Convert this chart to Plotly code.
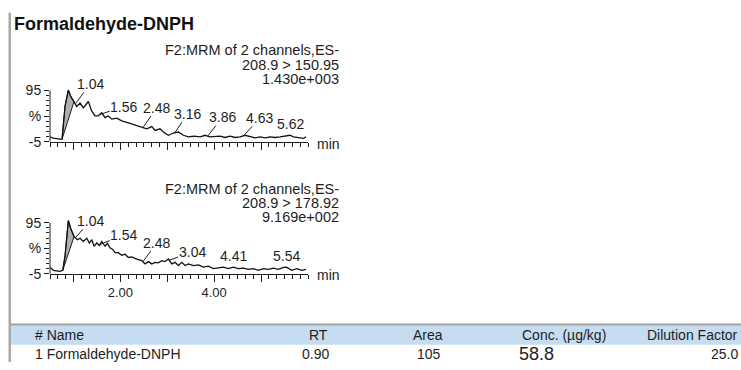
import plotly.graph_objects as go
import numpy as np

# ---------------- data ----------------
title_text = "Formaldehyde-DNPH"

t1 = [0.50, 0.565, 0.714, 0.757, 0.821, 0.891, 0.942, 1.013, 1.07, 1.141, 1.211, 1.318,
      1.39, 1.46, 1.525, 1.603, 1.674, 1.744, 1.817, 1.923, 2.03, 2.136, 2.243, 2.35,
      2.456, 2.563, 2.669, 2.74, 2.846, 2.917, 3.023, 3.13, 3.237, 3.343, 3.45, 3.57,
      3.70, 3.806, 3.91, 4.02, 4.126, 4.232, 4.339, 4.446, 4.552, 4.659, 4.765, 4.872,
      4.979, 5.085, 5.19, 5.30, 5.405, 5.512, 5.618, 5.689, 5.79, 5.902, 5.96]
y1 = [4.3, 1.9, 0, 0, 64.7, 96, 83.6, 73.6, 64, 70.4, 61, 73.6,
      54.7, 45.3, 45.3, 51.5, 42, 45.3, 39, 41, 35.8, 32.6, 29.6, 26.4,
      23.2, 20.2, 24.5, 17, 20.2, 13.8, 7.5, 11.9, 13.8, 7.5, 4.3, 5.7,
      4.3, 7.5, 4.3, 4.3, 5.7, 3.2, 5.7, 3.2, 4.3, 7.5, 4.3, 2.5,
      4.3, 2.5, 4.3, 3.2, 4.3, 5.7, 7.5, 4.3, 3.2, 1.3, 4.3]

t2 = [0.50, 0.571, 0.714, 0.772, 0.821, 0.891, 0.942, 1.013, 1.083, 1.141, 1.211, 1.284,
      1.339, 1.39, 1.439, 1.497, 1.552, 1.603, 1.674, 1.723, 1.78, 1.838, 1.887, 1.957,
      2.03, 2.10, 2.17, 2.243, 2.35, 2.456, 2.527, 2.597, 2.669, 2.74, 2.81, 2.883,
      2.953, 3.023, 3.096, 3.166, 3.237, 3.309, 3.38, 3.45, 3.556, 3.663, 3.77, 3.876,
      3.983, 4.09, 4.196, 4.303, 4.41, 4.516, 4.623, 4.73, 4.836, 4.942, 5.05, 5.156,
      5.262, 5.369, 5.476, 5.54, 5.655, 5.761, 5.868, 5.96]
y2 = [8.1, 1.9, 0, 1.9, 30.2, 99.4, 83.6, 67.9, 61.7, 64.7, 58.5, 64.7,
      55.3, 61.7, 49, 55.3, 50.4, 58.5, 49, 54.7, 45.8, 42.8, 36.4, 36.4,
      31.5, 33.4, 27, 28.3, 24, 20.8, 14.5, 18.9, 14.5, 17.5, 16.4, 20.8,
      18.9, 24, 14.5, 17.5, 11.3, 17.5, 11.3, 14.5, 11.3, 12.6, 8.1, 10,
      5.1, 6.2, 8.1, 5.1, 8.1, 5.1, 6.2, 3.8, 5.1, 1.9, 5.1, 3.8,
      6.2, 3.8, 7.5, 8.1, 1.9, 5.1, 1.9, 3.8]

peak_bounds1 = (0.757, 1.013)
peak_bounds2 = (0.772, 1.013)

peaks1 = [1.04, 1.56, 2.48, 3.16, 3.86, 4.63, 5.62]
peaks2 = [1.04, 1.54, 2.48, 3.04, 4.41, 5.54]

header1 = ["F2:MRM of 2 channels,ES-", "208.9 > 150.95", "1.430e+003"]
header2 = ["F2:MRM of 2 channels,ES-", "208.9 > 178.92", "9.169e+002"]

x_tickvals = [1, 2, 3, 4, 5]
x_ticktext = ["", "2.00", "", "4.00", ""]
y_tickvals = [-5, 45, 95]
y_ticktext = ["-5", "%", "95"]

table_header = ["# Name", "RT", "Area", "Conc. (µg/kg)", "Dilution Factor"]
table_row = ["1 Formaldehyde-DNPH", "0.90", "105", "58.8", "25.0"]

# ---------------- layout helpers ----------------
W, H = 741, 370
def PX(x): return x / W
def PY(y): return 1 - y / H

FONT = "Liberation Sans, Arial, sans-serif"
INK = "#1e1e1e"

fig = go.Figure()

panels = [
    (t1, y1, peak_bounds1, "x", "y"),
    (t2, y2, peak_bounds2, "x2", "y2"),
]
for t, y, pb, xa, ya in panels:
    sel = [(a, b) for a, b in zip(t, y) if pb[0] <= a <= pb[1]]
    fx = [a for a, b in sel] + [sel[0][0]]
    fy = [b for a, b in sel] + [sel[0][1]]
    fig.add_trace(go.Scatter(x=fx, y=fy, mode="lines", fill="toself",
                             fillcolor="#b0b0b0", line=dict(color=INK, width=1),
                             xaxis=xa, yaxis=ya, hoverinfo="skip", showlegend=False))
    fig.add_trace(go.Scatter(x=t, y=y, mode="lines",
                             line=dict(color="#111111", width=1.3),
                             xaxis=xa, yaxis=ya, hoverinfo="skip", showlegend=False))

def xaxis_cfg(anchor, labels):
    return dict(domain=[PX(50), PX(308)], range=[0.5, 6.0], anchor=anchor,
                showline=True, linecolor=INK, linewidth=1, showgrid=False, zeroline=False,
                ticks="outside", ticklen=7, tickwidth=1, tickcolor=INK,
                tickmode="array", tickvals=x_tickvals,
                ticktext=labels, tickfont=dict(family=FONT, size=13, color=INK),
                minor=dict(ticks="outside", ticklen=4, tickwidth=1, tickcolor=INK,
                           tick0=0, dtick=1 / 6, showgrid=False),
                fixedrange=True)

def yaxis_cfg(anchor, dom):
    return dict(domain=dom, range=[-5, 100], anchor=anchor,
                showline=False, showgrid=False, zeroline=False,
                ticks="outside", ticklen=5, tickwidth=1, tickcolor=INK,
                tickmode="array", tickvals=y_tickvals, ticktext=y_ticktext,
                tickfont=dict(family=FONT, size=14, color=INK),
                minor=dict(ticks="outside", ticklen=3, tickwidth=1, tickcolor=INK,
                           tick0=-5, dtick=10, showgrid=False),
                fixedrange=True)

annotations = []

# title
annotations.append(dict(text="<b>" + title_text + "</b>", x=PX(12), y=PY(20),
                        xref="paper", yref="paper", xanchor="left", yanchor="middle",
                        showarrow=False, font=dict(family=FONT, size=18, color="#111")))

# headers
for hdr, ys in [(header1, [47, 62, 77]), (header2, [190.7, 205, 220])]:
    for line, yy in zip(hdr, ys):
        annotations.append(dict(text=line, x=PX(341), y=PY(yy), xref="paper", yref="paper",
                                xanchor="right", yanchor="middle", showarrow=False,
                                font=dict(family=FONT, size=14.5, color=INK)))

# "min" labels
for yy in [144, 280]:
    annotations.append(dict(text="min", x=PX(315), y=PY(yy), xref="paper", yref="paper",
                            xanchor="left", yanchor="middle", showarrow=False,
                            font=dict(family=FONT, size=14, color=INK)))

# peak labels (offsets in pixels; None -> label directly above)
offsets1 = [(15, -20), (24, -8), (14, -20), (13, -19), (15, -19), (16, -18), None]
offsets2 = [(15, -17), (25, -10), (14, -19), (23, -8), None, None]
for peaks, offs, t, y, xr, yr in [(peaks1, offsets1, t1, y1, "x", "y"),
                                  (peaks2, offsets2, t2, y2, "x2", "y2")]:
    for p, o in zip(peaks, offs):
        yv = float(np.interp(p, t, y))
        if o is None:
            annotations.append(dict(text=f"{p:.2f}", x=p, y=yv, xref=xr, yref=yr,
                                    showarrow=False, yanchor="bottom", yshift=1,
                                    font=dict(family=FONT, size=14, color=INK)))
        else:
            annotations.append(dict(text=f"{p:.2f}", x=p, y=yv, xref=xr, yref=yr,
                                    showarrow=True, arrowhead=0, arrowwidth=1,
                                    arrowcolor=INK, ax=o[0], ay=o[1], borderpad=0,
                                    font=dict(family=FONT, size=14, color=INK)))

# table text
hdr_pos = [(33, "left"), (330, "right"), (445, "right"), (608, "right"), (740, "right")]
row_pos = [(33, "left"), (331, "right"), (443, "right"), (517, "left"), (740, "right")]
for txt, (xx, anc) in zip(table_header, hdr_pos):
    annotations.append(dict(text=txt, x=PX(xx), y=PY(341.5), xref="paper", yref="paper",
                            xanchor=anc, yanchor="middle", showarrow=False,
                            font=dict(family=FONT, size=14, color=INK)))
for i, (txt, (xx, anc)) in enumerate(zip(table_row, row_pos)):
    annotations.append(dict(text=txt, x=PX(xx), y=PY(361.5), xref="paper", yref="paper",
                            xanchor=anc, yanchor="middle", showarrow=False,
                            font=dict(family=FONT, size=18 if i == 3 else 14, color=INK)))

shapes = [
    dict(type="rect", xref="paper", yref="paper", x0=PX(8.5), x1=PX(11), y0=0, y1=PY(8),
         fillcolor="#a8a8a8", line=dict(width=0), layer="below"),
    dict(type="rect", xref="paper", yref="paper", x0=PX(11), x1=1, y0=PY(332.5), y1=PY(330),
         fillcolor="#a0a0a0", line=dict(width=0), layer="below"),
    dict(type="rect", xref="paper", yref="paper", x0=PX(11), x1=1, y0=PY(352), y1=PY(332.5),
         fillcolor="#c6dcf1", line=dict(width=0), layer="below"),
]
# y-axis lines spanning only the labelled range (-5 .. 95)
for xr, yr in [("x domain", "y"), ("x2 domain", "y2")]:
    shapes.append(dict(type="line", xref=xr, yref=yr, x0=0, x1=0,
                       y0=y_tickvals[0], y1=y_tickvals[-1],
                       line=dict(color=INK, width=1), layer="above"))

fig.update_layout(
    width=W, height=H, margin=dict(l=0, r=0, t=0, b=0),
    paper_bgcolor="white", plot_bgcolor="white",
    xaxis=xaxis_cfg("y", [""] * len(x_tickvals)),
    yaxis=yaxis_cfg("x", [PY(141.65), PY(86)]),
    xaxis2=xaxis_cfg("y2", x_ticktext),
    yaxis2=yaxis_cfg("x2", [PY(278.65), PY(223)]),
    annotations=annotations, shapes=shapes, showlegend=False,
    font=dict(family=FONT, color=INK),
)

fig.write_html("out.html",
               config={"displayModeBar": False, "staticPlot": True},
               post_script="document.body.style.margin='0';document.body.style.overflow='hidden';")
